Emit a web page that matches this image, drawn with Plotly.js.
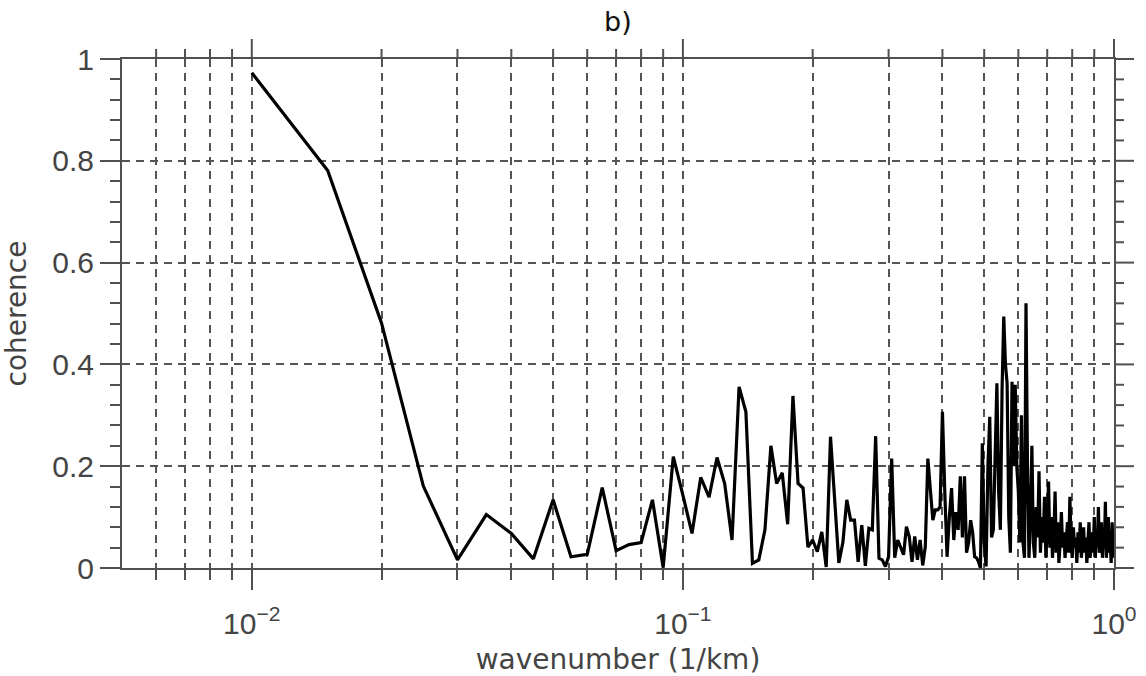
<!DOCTYPE html>
<html><head><meta charset="utf-8">
<script src="https://cdn.plot.ly/plotly-3.0.1.min.js"></script>
<style>html,body{margin:0;padding:0;background:#fff}</style>
</head><body><div id="chart" style="width:1146px;height:676px"></div>
<script>
const wavenumber = [
 0.010,0.015,0.020,0.025,0.030,0.035,0.040,0.045,0.050,
 0.055,0.060,0.065,0.070,0.075,0.080,0.085,0.090,0.095,0.100,
 0.105,0.110,0.115,0.120,0.125,0.130,0.135,0.140,0.145,0.150,
 0.155,0.160,0.165,0.170,0.175,0.180,0.185,0.190,0.195,0.200,
 0.205,0.210,0.215,0.220,0.225,0.230,0.235,0.240,0.245,0.250,
 0.255,0.260,0.265,0.270,0.275,0.280,0.285,0.290,0.295,0.300,
 0.305,0.310,0.315,0.320,0.325,0.330,0.335,0.340,0.345,0.350,
 0.355,0.360,0.365,0.370,0.375,0.380,0.385,0.390,0.395,0.400,
 0.405,0.410,0.415,0.420,0.425,0.430,0.435,0.440,0.445,0.450,
 0.455,0.460,0.465,0.470,0.475,0.480,0.485,0.490,0.495,0.500,
 0.505,0.510,0.515,0.520,0.525,0.530,0.535,0.540,0.545,0.550,
 0.555,0.560,0.565,0.570,0.575,0.580,0.585,0.590,0.595,0.600,
 0.605,0.610,0.615,0.620,0.625,0.630,0.635,0.640,0.645,0.650,
 0.655,0.660,0.665,0.670,0.675,0.680,0.685,0.690,0.695,0.700,
 0.705,0.710,0.715,0.720,0.725,0.730,0.735,0.740,0.745,0.750,
 0.755,0.760,0.765,0.770,0.775,0.780,0.785,0.790,0.795,0.800,
 0.805,0.810,0.815,0.820,0.825,0.830,0.835,0.840,0.845,0.850,
 0.855,0.860,0.865,0.870,0.875,0.880,0.885,0.890,0.895,0.900,
 0.905,0.910,0.915,0.920,0.925,0.930,0.935,0.940,0.945,0.950,
 0.955,0.960,0.965,0.970,0.975,0.980,0.985,0.990,0.995,1.000
];
const coherence = [
 0.973,0.781,0.481,0.161,0.016,0.105,0.068,0.018,0.134,
 0.022,0.027,0.158,0.034,0.046,0.050,0.134,0.001,0.219,0.143,
 0.068,0.178,0.139,0.217,0.166,0.055,0.356,0.307,0.009,0.016,
 0.075,0.240,0.166,0.187,0.086,0.338,0.166,0.157,0.041,0.055,
 0.032,0.071,0.002,0.258,0.120,0.010,0.050,0.134,0.094,0.094,
 0.012,0.084,0.004,0.078,0.075,0.259,0.019,0.016,0.003,0.022,
 0.215,0.020,0.055,0.042,0.026,0.081,0.062,0.012,0.062,0.016,
 0.055,0.005,0.042,0.215,0.147,0.094,0.114,0.114,0.120,0.307,
 0.150,0.022,0.100,0.157,0.055,0.110,0.075,0.180,0.060,0.180,
 0.030,0.050,0.094,0.070,0.022,0.020,0.012,0.000,0.245,0.050,
 0.003,0.200,0.297,0.060,0.075,0.200,0.363,0.150,0.075,0.350,
 0.494,0.400,0.363,0.100,0.030,0.366,0.200,0.360,0.200,0.150,
 0.050,0.300,0.050,0.020,0.520,0.200,0.020,0.100,0.240,0.050,
 0.020,0.120,0.060,0.190,0.030,0.100,0.050,0.140,0.020,0.080,
 0.170,0.040,0.100,0.020,0.060,0.150,0.030,0.090,0.010,0.050,
 0.110,0.040,0.070,0.020,0.060,0.090,0.030,0.140,0.050,0.020,
 0.080,0.040,0.060,0.010,0.070,0.030,0.090,0.020,0.050,0.080,
 0.030,0.060,0.010,0.040,0.090,0.020,0.050,0.070,0.030,0.100,
 0.020,0.060,0.040,0.120,0.030,0.050,0.090,0.020,0.060,0.040,
 0.130,0.020,0.070,0.100,0.030,0.050,0.010,0.090,0.040,0.020
];
const xMajorTicks = [0.01, 0.1, 1];
const xMajorLabels = ['10<sup>\u22122</sup>', '10<sup>\u22121</sup>', '10<sup>0</sup>'];
const xMinorTicks = [0.006,0.007,0.008,0.009,0.02,0.03,0.04,0.05,0.06,0.07,0.08,0.09,0.2,0.3,0.4,0.5,0.6,0.7,0.8,0.9];
const yTicks = [0, 0.2, 0.4, 0.6, 0.8, 1];
const yLabels = ['0', '0.2', '0.4', '0.6', '0.8', '1'];
const yMinorTicks = [0.04,0.08,0.12,0.16,0.24,0.28,0.32,0.36,0.44,0.48,0.52,0.56,0.64,0.68,0.72,0.76,0.84,0.88,0.92,0.96];

const axisCol = '#505050';
const gridCol = '#555555';
const tickFam = 'Liberation Sans, Arial, sans-serif';
const titleFam = 'DejaVu Sans, sans-serif';
const W = 1146, H = 676;
const M = {l: 122, r: 32, t: 59, b: 108};
const plotW = W - M.l - M.r, plotH = H - M.t - M.b;
const majorLen = 20, minorLen = 10;
const xRange = [Math.log10(0.005), 0];
const yRange = [0, 1];

// mirrored ticks on the top and right frame edges (tick positions follow the axis ranges)
const xFrac = v => (Math.log10(v) - xRange[0]) / (xRange[1] - xRange[0]);
const yFrac = v => (v - yRange[0]) / (yRange[1] - yRange[0]);
const shapes = [];
xMajorTicks.concat(xMinorTicks).forEach(v => {
  const len = xMajorTicks.includes(v) ? majorLen : minorLen;
  shapes.push({type: 'line', xref: 'paper', yref: 'paper', x0: xFrac(v), x1: xFrac(v),
               y0: 1, y1: 1 + len / plotH, line: {color: axisCol, width: 2}, layer: 'above'});
});
yTicks.concat(yMinorTicks).forEach(v => {
  const len = yTicks.includes(v) ? majorLen : minorLen;
  shapes.push({type: 'line', xref: 'paper', yref: 'paper', x0: 1, x1: 1 + len / plotW,
               y0: yFrac(v), y1: yFrac(v), line: {color: axisCol, width: 2}, layer: 'above'});
});

const layout = {
  width: W, height: H,
  margin: M,
  paper_bgcolor: '#fff', plot_bgcolor: '#fff',
  showlegend: false,
  font: {family: tickFam, color: '#444', size: 28},
  title: {text: 'b)', x: 0.5392, xanchor: 'center', y: 0.968, yanchor: 'middle', font: {size: 27, color: '#111', family: titleFam}},
  xaxis: {
    type: 'log', range: xRange,
    tickmode: 'array', tickvals: xMajorTicks, ticktext: xMajorLabels,
    ticks: 'outside', ticklen: majorLen, tickwidth: 2, tickcolor: axisCol,
    showline: true, linecolor: axisCol, linewidth: 2, mirror: true,
    showgrid: true, gridcolor: gridCol, gridwidth: 2, griddash: '8px,6px',
    zeroline: false,
    tickfont: {size: 30, color: '#444', family: tickFam},
    ticklabelstandoff: 8,
    minor: {tickmode: 'array', tickvals: xMinorTicks, ticks: 'outside', ticklen: minorLen, tickwidth: 2, tickcolor: axisCol,
            showgrid: true, gridcolor: gridCol, gridwidth: 2, griddash: '8px,6px'},
    title: {text: 'wavenumber (1/km)', font: {size: 28, color: '#444', family: titleFam}, standoff: 14}
  },
  yaxis: {
    range: yRange,
    tickmode: 'array', tickvals: yTicks, ticktext: yLabels,
    ticks: 'outside', ticklen: majorLen, tickwidth: 2, tickcolor: axisCol,
    showline: true, linecolor: axisCol, linewidth: 2, mirror: true,
    showgrid: true, gridcolor: gridCol, gridwidth: 2, griddash: '8px,6px',
    zeroline: false,
    tickfont: {size: 30, color: '#444', family: tickFam},
    minor: {tickmode: 'array', tickvals: yMinorTicks, ticks: 'outside', ticklen: minorLen, tickwidth: 2, tickcolor: axisCol, showgrid: false},
    title: {text: 'coherence', font: {size: 28, color: '#444', family: titleFam}, standoff: 34}
  },
  shapes: shapes
};

Plotly.newPlot('chart', [
  {x: wavenumber, y: coherence, type: 'scatter', mode: 'lines',
   line: {color: '#000', width: 3.2}, hoverinfo: 'skip'}
], layout, {staticPlot: true, displayModeBar: false});
</script>
</body></html>
